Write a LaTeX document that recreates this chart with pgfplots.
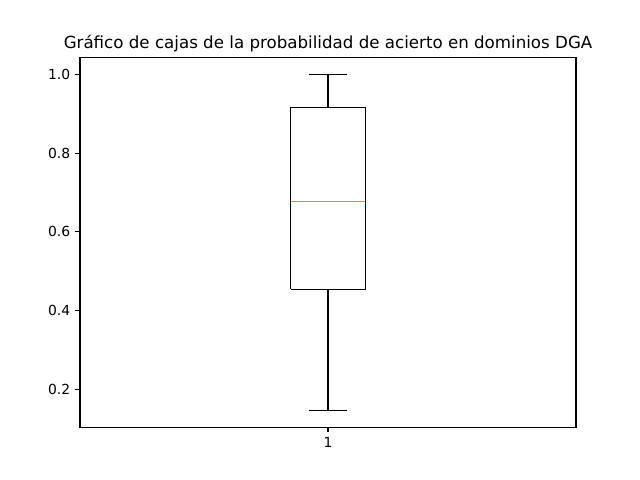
\documentclass[border=0pt]{standalone}
\usepackage{pgfplots}
\pgfplotsset{compat=1.18}
\usepackage{fontspec}
\setmainfont{DejaVu Sans}
\definecolor{mplorange}{RGB}{255,127,14}
\begin{document}
\begin{tikzpicture}[x=1pt,y=1pt]
\path[use as bounding box] (0,0) rectangle (460.8,345.6);
\begin{axis}[
  at={(57.6pt,38.016pt)}, anchor=south west,
  scale only axis, width=357.12pt, height=266.112pt,
  xmin=0.5, xmax=1.5, ymin=0.10396, ymax=1.04267,
  xtick={1}, xticklabels={1},
  ytick={0.2,0.4,0.6,0.8,1.0},
  yticklabel style={/pgf/number format/.cd, fixed, fixed zerofill, precision=1},
  /pgf/number format/assume math mode=true,
  tick align=outside, xtick pos=left, ytick pos=left,
  major tick length=3.5pt,
  tick style={black, line width=0.8pt},
  axis line style={line width=0.8pt},
  ticklabel style={font=\fontsize{10}{12}\selectfont},
  xticklabel style={yshift=-0.5pt},
  title={Gráfico de cajas de la probabilidad de acierto en dominios DGA},
  title style={at={(0.5,1)}, anchor=south, yshift=-5.4pt, font=\fontsize{12}{14}\selectfont},
]
% box (Q1 = 0.454, Q3 = 0.916)
\addplot[black, line width=1pt, line join=miter] coordinates {
  (0.925,0.454) (1.075,0.454) (1.075,0.916) (0.925,0.916) (0.925,0.454)};
% whiskers
\addplot[black, line width=1pt] coordinates {(1,0.454) (1,0.1467)};
\addplot[black, line width=1pt] coordinates {(1,0.916) (1,1.0)};
% caps
\addplot[black, line width=1pt] coordinates {(0.9625,0.1467) (1.0375,0.1467)};
\addplot[black, line width=1pt] coordinates {(0.9625,1.0) (1.0375,1.0)};
% median
\addplot[draw=mplorange, line width=1.1pt] coordinates {(0.925,0.6775) (1.075,0.6775)};
\end{axis}
\end{tikzpicture}
\end{document}
